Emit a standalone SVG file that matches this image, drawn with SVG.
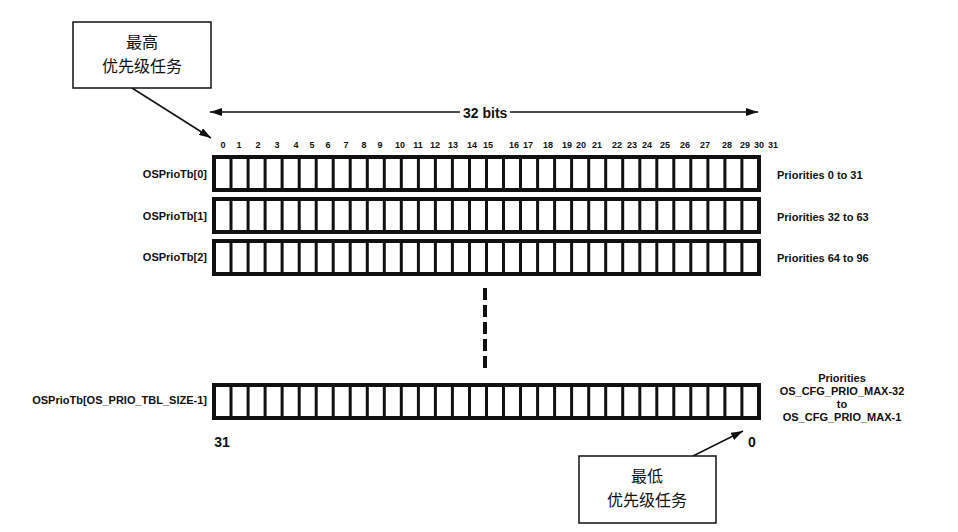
<svg xmlns="http://www.w3.org/2000/svg" xmlns:xlink="http://www.w3.org/1999/xlink" width="958" height="532" viewBox="0 0 958 532">
<style>
.lbl{font-family:"Liberation Sans",Arial,sans-serif;font-weight:bold;font-size:11px;fill:#111}
.num{font-family:"Liberation Sans",Arial,sans-serif;font-weight:bold;font-size:9px;fill:#111;text-anchor:middle}
.big{font-family:"Liberation Sans",Arial,sans-serif;font-weight:bold;font-size:14px;fill:#111}
.cjk{font-family:"Noto Sans CJK SC","Noto Sans",sans-serif;font-size:16px;fill:#111;text-anchor:middle}
.frame{fill:#fff;stroke:#111;stroke-width:4}
.div{fill:none;stroke:#111;stroke-width:3}
.box{fill:#fff;stroke:#111;stroke-width:1.5}
.arr{fill:none;stroke:#111;stroke-width:1.5}
</style>
<defs>
<marker id="ah" viewBox="0 0 12 8" refX="12" refY="4" markerWidth="12" markerHeight="8" markerUnits="userSpaceOnUse" orient="auto-start-reverse">
<path d="M0,0L12,4L0,8z" fill="#111"/>
</marker>
<g id="cells">
<rect class="frame" x="214" y="0" width="545" height="33"/>
<path class="div" d="M231 0V33M248.1 0V33M265.1 0V33M282.1 0V33M299.2 0V33M316.2 0V33M333.2 0V33M350.2 0V33M367.3 0V33M384.3 0V33M401.3 0V33M418.4 0V33M435.4 0V33M452.4 0V33M469.5 0V33M486.5 0V33M503.5 0V33M520.5 0V33M537.6 0V33M554.6 0V33M571.6 0V33M588.7 0V33M605.7 0V33M622.7 0V33M639.8 0V33M656.8 0V33M673.8 0V33M690.8 0V33M707.9 0V33M724.9 0V33M741.9 0V33"/>
</g>
</defs>
<rect width="958" height="532" fill="#fff"/>

<g id="connectors">
<line class="arr" x1="460" y1="112" x2="210" y2="112" marker-end="url(#ah)"/>
<line class="arr" x1="510" y1="112" x2="758" y2="112" marker-end="url(#ah)"/>
<line class="arr" x1="132" y1="88" x2="211" y2="138" marker-end="url(#ah)"/>
<line class="arr" x1="693" y1="456" x2="743" y2="431" marker-end="url(#ah)"/>
<line x1="485" y1="288" x2="485" y2="372" stroke="#111" stroke-width="4" stroke-dasharray="12 5"/>
</g>

<g id="bits-label">
<text class="big" x="463" y="118">32 bits</text>
</g>

<g id="bit-numbers">
<text class="num" x="223" y="148">0</text>
<text class="num" x="239" y="148">1</text>
<text class="num" x="258" y="148">2</text>
<text class="num" x="277" y="148">3</text>
<text class="num" x="296" y="148">4</text>
<text class="num" x="312" y="148">5</text>
<text class="num" x="328" y="148">6</text>
<text class="num" x="346" y="148">7</text>
<text class="num" x="364" y="148">8</text>
<text class="num" x="380" y="148">9</text>
<text class="num" x="400" y="148">10</text>
<text class="num" x="418" y="148">11</text>
<text class="num" x="435" y="148">12</text>
<text class="num" x="453" y="148">13</text>
<text class="num" x="472" y="148">14</text>
<text class="num" x="488" y="148">15</text>
<text class="num" x="514" y="148">16</text>
<text class="num" x="528" y="148">17</text>
<text class="num" x="548" y="148">18</text>
<text class="num" x="567" y="148">19</text>
<text class="num" x="581" y="148">20</text>
<text class="num" x="597" y="148">21</text>
<text class="num" x="617" y="148">22</text>
<text class="num" x="632" y="148">23</text>
<text class="num" x="647" y="148">24</text>
<text class="num" x="665" y="148">25</text>
<text class="num" x="685" y="148">26</text>
<text class="num" x="705" y="148">27</text>
<text class="num" x="727" y="148">28</text>
<text class="num" x="745" y="148">29</text>
<text class="num" x="759" y="148">30</text>
<text class="num" x="773" y="148">31</text>
</g>

<g id="row0">
<use xlink:href="#cells" href="#cells" y="157"/>
<text class="lbl" x="207" y="178" text-anchor="end">OSPrioTb[0]</text>
<text class="lbl" x="777" y="179">Priorities 0 to 31</text>
</g>
<g id="row1">
<use xlink:href="#cells" href="#cells" y="199"/>
<text class="lbl" x="207" y="220" text-anchor="end">OSPrioTb[1]</text>
<text class="lbl" x="777" y="221">Priorities 32 to 63</text>
</g>
<g id="row2">
<use xlink:href="#cells" href="#cells" y="241"/>
<text class="lbl" x="207" y="261" text-anchor="end">OSPrioTb[2]</text>
<text class="lbl" x="777" y="262">Priorities 64 to 96</text>
</g>
<g id="row-last">
<use xlink:href="#cells" href="#cells" y="385"/>
<text class="lbl" x="207" y="404" text-anchor="end">OSPrioTb[OS_PRIO_TBL_SIZE-1]</text>
<text class="lbl" x="842" y="382" text-anchor="middle">Priorities</text>
<text class="lbl" x="842" y="395" text-anchor="middle">OS_CFG_PRIO_MAX-32</text>
<text class="lbl" x="842" y="408" text-anchor="middle">to</text>
<text class="lbl" x="842" y="421" text-anchor="middle">OS_CFG_PRIO_MAX-1</text>
<text class="big" x="222" y="447" text-anchor="middle">31</text>
<text class="big" x="752" y="447" text-anchor="middle">0</text>
</g>

<g id="highest-box">
<rect class="box" x="73" y="22" width="138" height="66"/>
<text class="cjk" x="142" y="48">最高</text>
<text class="cjk" x="142" y="72">优先级任务</text>
</g>
<g id="lowest-box">
<rect class="box" x="579" y="456" width="137" height="67"/>
<text class="cjk" x="647" y="482">最低</text>
<text class="cjk" x="647" y="506">优先级任务</text>
</g>
</svg>
